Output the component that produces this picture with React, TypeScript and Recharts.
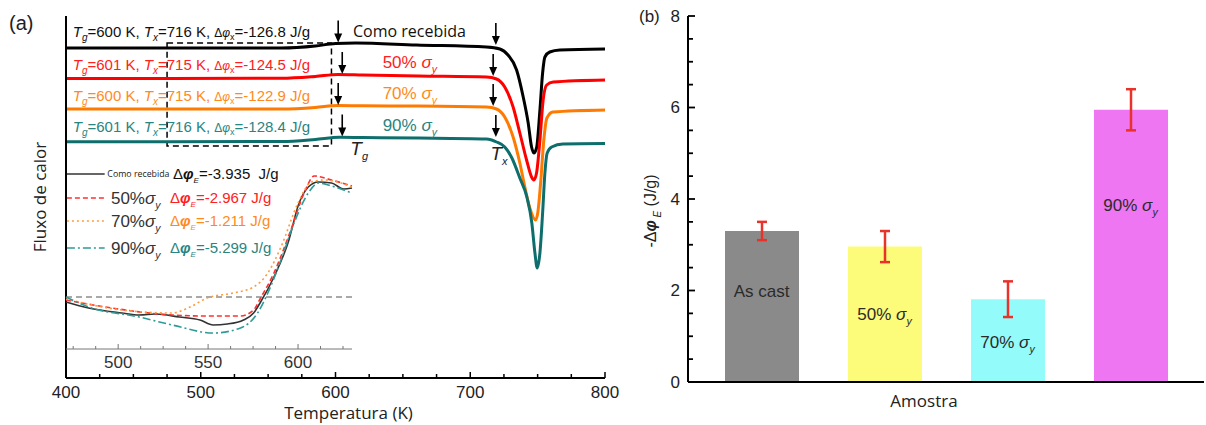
import React from "react";
import {
  LineChart,
  Line,
  XAxis,
  YAxis,
  ReferenceDot,
  ReferenceArea,
  ReferenceLine,
  BarChart,
  Bar,
  Cell,
  ErrorBar,
} from "recharts";

const ARIAL = "'Liberation Sans', Arial, sans-serif";
const OPEN = "'Open Sans', 'Liberation Sans', sans-serif";

type Pt = [number, number];

// (a) DSC traces: temperature (K) vs heat flow (a.u., curves shifted)
const DSC_AS_CAST: Pt[] = [
  [400, 33.0], [560, 33.0], [585, 33.2], [600, 33.45], [615, 33.5], [660, 33.3], [712, 33.1],
  [722, 32.9], [728, 32.3], [734.4, 30.8], [739.3, 28.1], [743, 25.5], [745.5, 23.1], [747.2, 22.5],
  [749.2, 23.0], [751.7, 26.8], [753.7, 30.5], [755.4, 32.1], [759, 32.6], [766.5, 32.8], [800, 32.9],
];
const DSC_50: Pt[] = [
  [400, 29.95], [560, 29.97], [585, 30.15], [602, 30.35], [620, 30.3], [662, 30.2], [712, 30.1],
  [719.5, 29.9], [725.6, 29.1], [731.8, 27.1], [736.8, 24.5], [741.8, 21.8], [745.5, 20.1], [747.2, 19.8],
  [749.2, 20.5], [751.7, 23.8], [754.1, 27.8], [756.7, 29.3], [761.6, 29.6], [800, 29.8],
];
const DSC_70: Pt[] = [
  [400, 26.9], [560, 26.9], [585, 27.05], [602, 27.25], [620, 27.22], [662, 27.2], [712, 27.1],
  [719.5, 26.9], [725.6, 26.1], [731.8, 24.1], [736.8, 21.5], [740.5, 19.1], [744.2, 17.0], [748.5, 15.8],
  [750.2, 16.6], [752.4, 19.8], [754.6, 23.8], [756.9, 26.0], [761.3, 26.6], [800, 26.8],
];
const DSC_90: Pt[] = [
  [400, 23.63], [560, 23.65], [585, 23.85], [603, 24.07], [620, 24.05], [662, 24.0], [712, 23.9],
  [719.5, 23.6], [725.6, 23.1], [730.9, 22.0], [736.8, 20.0], [742, 18.1], [745.7, 15.5], [748, 12.5],
  [749.7, 11.0], [751.7, 12.5], [753.7, 16.5], [755.4, 20.5], [757.1, 22.5], [760.4, 23.1], [768.8, 23.4], [800, 23.45],
];

// inset: relaxation region below Tg (dashed line = baseline)
const IN_AS_CAST: Pt[] = [
  [471, -0.5], [483.5, -1.1], [502, -1.6], [511.7, -1.8], [521, -1.7], [534, -2.0], [545.5, -2.3],
  [552.8, -2.8], [560.7, -2.7], [569.7, -2.3], [575.3, -1.6], [579.2, -0.5], [586.6, 2.0], [594.4, 5.4],
  [600.6, 9.4], [605.7, 11.0], [611.3, 11.5], [618.6, 11.4], [625.4, 10.8], [630, 10.9],
];
const IN_50: Pt[] = [
  [471, -0.3], [493, -1.0], [530, -1.8], [549.4, -1.9], [568, -1.9], [575.3, -1.3], [579.2, -0.1],
  [586.6, 2.4], [596, 6.7], [603.4, 10.4], [609, 12.1], [618.6, 11.7], [630, 11.1],
];
const IN_70: Pt[] = [
  [471, -0.2], [502, -1.3], [530, -1.6], [540, -1.0], [549.4, -0.1], [564, 0.4], [575.3, 1.0],
  [583.2, 2.4], [590.5, 5.0], [600, 9.4], [607.4, 11.5], [614.7, 11.7], [630, 11.0],
];
const IN_90: Pt[] = [
  [471, 0], [483.5, -1.0], [511.7, -2.0], [530, -2.8], [552.8, -3.6], [568, -3.1], [577.5, -1.6],
  [583.2, 0.4], [590.5, 3.7], [597.8, 7.4], [605.7, 10.4], [611.3, 11.4], [618.6, 11.1], [630, 10.4],
];

const SAMPLE_LEVELS = ["Como recebida", "50%", "70%", "90%"];
const SAMPLE_TG = [600, 601, 600, 601];
const SAMPLE_TX = [716, 715, 715, 716];
const SAMPLE_DPHI_X = [-126.8, -124.5, -122.9, -128.4];
const SAMPLE_DPHI_E = [-3.935, -2.967, -1.211, -5.299];

const MAIN_TICKS = [400, 425, 450, 475, 500, 525, 550, 575, 600, 625, 650, 675, 700, 725, 750, 775, 800];
const INSET_TICKS = [475, 487.5, 500, 512.5, 525, 537.5, 550, 562.5, 575, 587.5, 600, 612.5, 625];

// arrow tips [T, heat flow]
const TG_ARROWS: Pt[] = [[602, 33.55], [605, 30.4], [602, 27.3], [605, 24.15]];
const TX_ARROWS: Pt[] = [[719, 33.3], [717, 30.2], [717, 27.2], [719, 24.1]];

// (b) relaxation enthalpy
const BAR_CATS = ["As cast", "50%", "70%", "90%"];
const BAR_VALUES = [3.3, 2.96, 1.81, 5.95];
const BAR_ERRORS = [0.2, 0.34, 0.39, 0.45];
const BAR_TICKS = [0, 0.5, 1, 1.5, 2, 2.5, 3, 3.5, 4, 4.5, 5, 5.5, 6, 6.5, 7, 7.5, 8];

// styling
const CURVE_COLORS = ["#000000", "#ff0000", "#ff7a00", "#0e6e6c"];
const TEXT_COLORS = ["#111111", "#ff2020", "#ff8a1c", "#2a8480"];
const INSET_COLORS = ["#333333", "#ff3030", "#ff9a3c", "#2f9b97"];
const INSET_DASH = [undefined, "5 3", "2 3", "8 3 2 3"];
const BAR_COLORS = ["#8a8a8a", "#fcfb7a", "#94fbfb", "#ee76f3"];
const SUMMARY_Y = [34.1, 30.8, 27.7, 24.6];
const LEVEL_Y = [34.1, 31.0, 27.9, 24.7];
const LEGEND_Y = [12.3, 9.9, 7.6, 4.9];
const BAR_NOTE_Y = [1.99, 1.48, 0.87, 3.87];

const rows = (pts: Pt[]) => pts.map(([t, v]) => ({ t, v }));

const at = (draw: (x: number, y: number) => React.ReactElement) => (p: any) => {
  const vb = p.viewBox || {};
  return draw((vb.x || 0) + (vb.width || 0) / 2, (vb.y || 0) + (vb.height || 0) / 2);
};

const SigmaY = ({ size }: { size: number }) => (
  <>
    <tspan fontStyle="italic">σ</tspan>
    <tspan fontStyle="italic" fontSize={size * 0.62} dy={size * 0.3}>y</tspan>
  </>
);

const summary = (i: number) => (
  <>
    <tspan fontStyle="italic">T</tspan>
    <tspan fontStyle="italic" fontSize={10} dy={4}>g</tspan>
    <tspan dy={-4}>{`=${SAMPLE_TG[i]} K, `}</tspan>
    <tspan fontStyle="italic">T</tspan>
    <tspan fontStyle="italic" fontSize={10} dy={4}>x</tspan>
    <tspan dy={-4}>{`=${SAMPLE_TX[i]} K, `}</tspan>
    <tspan fontSize={12}>Δ</tspan>
    <tspan fontSize={12} fontStyle="italic">φ</tspan>
    <tspan fontSize={9} dy={3}>x</tspan>
    <tspan dy={-3}>{`=${SAMPLE_DPHI_X[i].toFixed(1)} J/g`}</tspan>
  </>
);

const arrowShape = (p: any) => {
  const { cx, cy } = p;
  return (
    <g>
      <line x1={cx} x2={cx} y1={cy - 22} y2={cy - 7} stroke="#000" strokeWidth={1.6} />
      <path d={`M${cx - 4},${cy - 9} L${cx + 4},${cy - 9} L${cx},${cy} Z`} fill="#000" />
    </g>
  );
};

const mainTick = (p: any) => {
  const { x, y, payload } = p;
  const major = payload.value % 100 === 0;
  return (
    <g>
      <line x1={x} x2={x} y1={y} y2={y - (major ? 6 : 4)} stroke="#000" strokeWidth={1.5} />
      {major && (
        <text x={x} y={y + 20} textAnchor="middle" fontSize={17} fontFamily={ARIAL} fill="#222">
          {payload.value}
        </text>
      )}
    </g>
  );
};

const insetTick = (p: any) => {
  const { x, y, payload } = p;
  const major = payload.value % 50 === 0;
  return (
    <g>
      <line x1={x} x2={x} y1={y} y2={y - (major ? 5 : 3)} stroke="#777" strokeWidth={1} />
      {major && (
        <text x={x} y={y + 19} textAnchor="middle" fontSize={17} fontFamily={ARIAL} fill="#333">
          {payload.value}
        </text>
      )}
    </g>
  );
};

const barTick = (p: any) => {
  const { x, y, payload } = p;
  const major = payload.value % 2 === 0;
  return (
    <g>
      <line x1={x} x2={x + (major ? 7 : 5)} y1={y} y2={y} stroke="#000" strokeWidth={1.8} />
      {major && (
        <text x={x - 8} y={y} dy="0.35em" textAnchor="end" fontSize={17} fontFamily={ARIAL} fill="#222">
          {payload.value}
        </text>
      )}
    </g>
  );
};

const frame = { stroke: "#000", strokeWidth: 2 };
const insetFrame = { stroke: "#777", strokeWidth: 1 };

function DscPanel() {
  const curves = [DSC_AS_CAST, DSC_50, DSC_70, DSC_90];
  return (
    <LineChart width={620} height={425} margin={{ top: 16, right: 15, bottom: 0, left: 0 }}>
      <XAxis
        type="number"
        dataKey="t"
        domain={[400, 800]}
        ticks={MAIN_TICKS}
        interval={0}
        tick={mainTick}
        tickLine={false}
        tickSize={0}
        tickMargin={0}
        height={47}
        axisLine={frame}
        label={(p: any) => (
          <text x={p.viewBox.x + p.viewBox.width / 2 + 13} y={p.viewBox.y + 41} textAnchor="middle" fontSize={17} fontFamily={OPEN} fill="#222">
            Temperatura  (K)
          </text>
        )}
      />
      <XAxis xAxisId="top" orientation="top" type="number" dataKey="t" domain={[400, 800]} tick={false} tickLine={false} height={0} axisLine={frame} />
      <YAxis
        type="number"
        dataKey="v"
        domain={[0, 36.2]}
        width={66}
        tick={false}
        tickLine={false}
        axisLine={frame}
        label={(p: any) => {
          const cx = p.viewBox.x + 40;
          const cy = p.viewBox.y + p.viewBox.height / 2;
          return (
            <text x={cx} y={cy} transform={`rotate(-90 ${cx} ${cy})`} textAnchor="middle" dy="0.35em" fontSize={17} fontFamily={OPEN} fill="#222">
              Fluxo de calor
            </text>
          );
        }}
      />
      <YAxis yAxisId="right" orientation="right" type="number" domain={[0, 36.2]} width={0} tick={false} tickLine={false} axisLine={frame} />

      {curves.map((c, i) => (
        <Line key={i} data={rows(c)} dataKey="v" type="monotone" stroke={CURVE_COLORS[i]} strokeWidth={3} dot={false} isAnimationActive={false} />
      ))}

      <ReferenceArea x1={475} x2={597} y1={23.2} y2={33.5} fill="none" fillOpacity={0} stroke="#000" strokeWidth={1.5} strokeDasharray="6 4" />

      {TG_ARROWS.map(([t, v], i) => (
        <ReferenceDot key={`tg${i}`} x={t} y={v} r={1} shape={arrowShape} />
      ))}
      {TX_ARROWS.map(([t, v], i) => (
        <ReferenceDot key={`tx${i}`} x={t} y={v} r={1} shape={arrowShape} />
      ))}

      {SAMPLE_LEVELS.map((s, i) => (
        <ReferenceDot
          key={`sum${i}`}
          x={405}
          y={SUMMARY_Y[i]}
          r={0}
          fill="none"
          stroke="none"
          label={at((x, y) => (
            <text x={x} y={y} fontSize={15} fontFamily={ARIAL} fill={TEXT_COLORS[i]} style={{ whiteSpace: "pre" }}>
              {summary(i)}
            </text>
          ))}
        />
      ))}
      {SAMPLE_LEVELS.map((s, i) => (
        <ReferenceDot
          key={`lvl${i}`}
          x={i === 0 ? 613 : 635}
          y={LEVEL_Y[i]}
          r={0}
          fill="none"
          stroke="none"
          label={at((x, y) =>
            i === 0 ? (
              <text x={x} y={y} fontSize={16} fontFamily={OPEN} fill="#111">{s}</text>
            ) : (
              <text x={x} y={y} fontSize={17} fontFamily={ARIAL} fill={TEXT_COLORS[i]} style={{ whiteSpace: "pre" }}>
                {`${s} `}
                <SigmaY size={17} />
              </text>
            )
          )}
        />
      ))}
      <ReferenceDot
        x={611}
        y={22.3}
        r={0}
        fill="none"
        stroke="none"
        label={at((x, y) => (
          <text x={x} y={y} fontSize={19} fontFamily={ARIAL} fill="#222">
            <tspan fontStyle="italic">T</tspan>
            <tspan fontStyle="italic" fontSize={11} dy={5}>g</tspan>
          </text>
        ))}
      />
      <ReferenceDot
        x={715}
        y={21.8}
        r={0}
        fill="none"
        stroke="none"
        label={at((x, y) => (
          <text x={x} y={y} fontSize={19} fontFamily={ARIAL} fill="#222">
            <tspan fontStyle="italic">T</tspan>
            <tspan fontStyle="italic" fontSize={11} dy={5}>x</tspan>
          </text>
        ))}
      />
    </LineChart>
  );
}

function InsetPanel() {
  const curves = [IN_AS_CAST, IN_50, IN_70, IN_90];
  return (
    <LineChart width={360} height={380} margin={{ top: 161, right: 8, bottom: 0, left: 66 }}>
      <XAxis
        type="number"
        dataKey="t"
        domain={[471, 630]}
        ticks={INSET_TICKS}
        interval={0}
        tick={insetTick}
        tickLine={false}
        tickSize={0}
        tickMargin={0}
        height={31}
        axisLine={insetFrame}
      />
      <XAxis xAxisId="top" orientation="top" type="number" dataKey="t" domain={[471, 630]} tick={false} tickLine={false} height={0} axisLine={insetFrame} />
      <YAxis type="number" dataKey="v" domain={[-5.2, 13.6]} hide />
      <YAxis yAxisId="right" orientation="right" type="number" domain={[-5.2, 13.6]} width={0} tick={false} tickLine={false} axisLine={insetFrame} />

      <ReferenceLine y={0} stroke="#555" strokeWidth={1.2} strokeDasharray="6 4" />

      {curves.map((c, i) => (
        <Line key={i} data={rows(c)} dataKey="v" type="monotone" stroke={INSET_COLORS[i]} strokeWidth={1.6} strokeDasharray={INSET_DASH[i]} dot={false} isAnimationActive={false} />
      ))}

      {SAMPLE_LEVELS.map((s, i) => (
        <ReferenceLine
          key={`lg${i}`}
          segment={[{ x: 471.5, y: LEGEND_Y[i] }, { x: 492.5, y: LEGEND_Y[i] }]}
          stroke={INSET_COLORS[i]}
          strokeWidth={1.6}
          strokeDasharray={INSET_DASH[i]}
        />
      ))}
      {SAMPLE_LEVELS.map((s, i) => (
        <ReferenceDot
          key={`lt${i}`}
          x={i === 0 ? 494 : 496}
          y={LEGEND_Y[i]}
          r={0}
          fill="none"
          stroke="none"
          label={at((x, y) =>
            i === 0 ? (
              <text x={x} y={y} dy="0.35em" fontSize={8.8} fontFamily={OPEN} fill="#222">{s}</text>
            ) : (
              <text x={x} y={y + 6} fontSize={17} fontFamily={ARIAL} fill="#333">
                {s}
                <SigmaY size={17} />
              </text>
            )
          )}
        />
      ))}
      {SAMPLE_DPHI_E.map((d, i) => (
        <ReferenceDot
          key={`le${i}`}
          x={i === 0 ? 530.5 : 528.8}
          y={LEGEND_Y[i]}
          r={0}
          fill="none"
          stroke="none"
          label={at((x, y) => (
            <text x={x} y={y + 5} fontSize={15} fontFamily={ARIAL} fill={i === 0 ? "#111" : TEXT_COLORS[i]} style={{ whiteSpace: "pre" }}>
              <tspan>Δ</tspan>
              <tspan fontStyle="italic" fontWeight="bold">φ</tspan>
              <tspan fontStyle="italic" fontSize={8} dy={4}>E</tspan>
              <tspan dy={-4}>{`=${d.toFixed(3)}${i === 0 ? "  " : " "}J/g`}</tspan>
            </text>
          ))}
        />
      ))}
    </LineChart>
  );
}

function BarPanel() {
  const data = BAR_CATS.map((name, i) => ({ name, value: BAR_VALUES[i], err: BAR_ERRORS[i] }));
  return (
    <BarChart width={586} height={425} data={data} margin={{ top: 16, right: 2, bottom: 0, left: 0 }}>
      <XAxis
        dataKey="name"
        tick={false}
        tickLine={false}
        height={43}
        padding={{ left: 12, right: 12 }}
        axisLine={frame}
        label={(p: any) => (
          <text x={p.viewBox.x + p.viewBox.width / 2 - 22} y={p.viewBox.y + 25} textAnchor="middle" fontSize={17} fontFamily={OPEN} fill="#222">
            Amostra
          </text>
        )}
      />
      <XAxis xAxisId="top" orientation="top" dataKey="name" tick={false} tickLine={false} height={0} padding={{ left: 12, right: 12 }} axisLine={frame} />
      <YAxis
        type="number"
        domain={[0, 8]}
        ticks={BAR_TICKS}
        interval={0}
        tick={barTick}
        tickLine={false}
        tickSize={0}
        tickMargin={0}
        width={68}
        axisLine={frame}
        label={(p: any) => {
          const cx = p.viewBox.x + 30;
          const cy = 211;
          return (
            <text x={cx} y={cy} transform={`rotate(-90 ${cx} ${cy})`} textAnchor="middle" dy="0.35em" fontSize={16} fontFamily={ARIAL} fill="#222" style={{ whiteSpace: "pre" }}>
              <tspan>-Δ</tspan>
              <tspan fontStyle="italic" fontWeight="bold">φ</tspan>
              <tspan fontStyle="italic" fontSize={10} dy={5}>{" E"}</tspan>
              <tspan dy={-5}>{" (J/g)"}</tspan>
            </text>
          );
        }}
      />
      <YAxis yAxisId="right" orientation="right" type="number" domain={[0, 8]} width={0} tick={false} tickLine={false} axisLine={frame} />
      <Bar dataKey="value" barSize={74} isAnimationActive={false}>
        {data.map((d, i) => (
          <Cell key={d.name} fill={BAR_COLORS[i]} />
        ))}
        <ErrorBar dataKey="err" direction="y" width={5} stroke="#e8322a" strokeWidth={2.5} />
      </Bar>
      {BAR_CATS.map((c, i) => (
        <ReferenceDot
          key={c}
          x={c}
          y={BAR_NOTE_Y[i]}
          r={0}
          fill="none"
          stroke="none"
          label={at((x, y) => (
            <text x={x} y={y} dy="0.35em" textAnchor="middle" fontSize={17} fontFamily={ARIAL} fill="#2a2a2a" style={{ whiteSpace: "pre" }}>
              {i === 0 ? c : `${c} `}
              {i > 0 && <SigmaY size={17} />}
            </text>
          ))}
        />
      ))}
    </BarChart>
  );
}

export default function App() {
  return (
    <div style={{ position: "absolute", left: 0, top: 0, width: 1206, height: 425, background: "#fff", overflow: "hidden" }}>
      <div style={{ position: "absolute", left: 0, top: 0 }}>
        <DscPanel />
      </div>
      <div style={{ position: "absolute", left: 0, top: 0 }}>
        <InsetPanel />
      </div>
      <div style={{ position: "absolute", left: 620, top: 0 }}>
        <BarPanel />
      </div>
      <svg width={1206} height={425} style={{ position: "absolute", left: 0, top: 0, pointerEvents: "none" }}>
        <text x={9} y={30} fontSize={20} fontFamily={ARIAL} fill="#222">(a)</text>
        <text x={639} y={22} fontSize={17} fontFamily={ARIAL} fill="#222">(b)</text>
      </svg>
    </div>
  );
}
